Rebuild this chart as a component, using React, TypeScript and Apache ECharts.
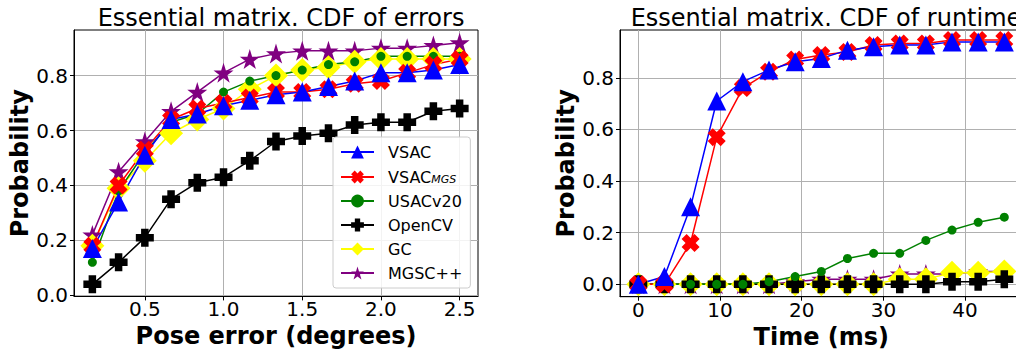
import React, { useEffect, useRef } from 'react';
import * as echarts from 'echarts';

// ---- Left chart: CDF of pose errors ----
const poseErr = [0.1667, 0.3333, 0.5, 0.6667, 0.8333, 1.0, 1.1667, 1.3333, 1.5, 1.6667, 1.8333, 2.0, 2.1667, 2.3333, 2.5];
const errVSAC = [0.17, 0.34, 0.51, 0.64, 0.66, 0.69, 0.71, 0.73, 0.74, 0.76, 0.78, 0.81, 0.81, 0.82, 0.84];
const errVSACMGS = [0.18, 0.40, 0.53, 0.64, 0.68, 0.70, 0.72, 0.74, 0.74, 0.75, 0.77, 0.78, 0.81, 0.84, 0.86];
const errUSAC = [0.12, 0.38, 0.52, 0.63, 0.66, 0.74, 0.78, 0.80, 0.82, 0.84, 0.85, 0.87, 0.87, 0.87, 0.87];
const errOpenCV = [0.04, 0.12, 0.21, 0.35, 0.41, 0.43, 0.49, 0.56, 0.58, 0.59, 0.62, 0.63, 0.63, 0.67, 0.68];
const errGC = [0.18, 0.39, 0.49, 0.59, 0.64, 0.68, 0.75, 0.80, 0.82, 0.83, 0.85, 0.86, 0.86, 0.86, 0.86];
const errMGSC = [0.22, 0.45, 0.56, 0.67, 0.74, 0.81, 0.86, 0.88, 0.89, 0.89, 0.89, 0.90, 0.90, 0.91, 0.92];

// ---- Right chart: CDF of runtime ----
const timeMs = [0, 3.2, 6.4, 9.6, 12.8, 16, 19.2, 22.4, 25.6, 28.8, 32, 35.2, 38.4, 41.6, 44.8];
const rtVSAC = [0, 0.03, 0.30, 0.71, 0.785, 0.83, 0.862, 0.875, 0.907, 0.92, 0.927, 0.927, 0.939, 0.939, 0.939];
const rtVSACMGS = [0, 0, 0.16, 0.57, 0.76, 0.823, 0.871, 0.888, 0.90, 0.927, 0.933, 0.933, 0.946, 0.946, 0.946];
const rtUSAC = [0, 0, 0, 0, 0, 0.01, 0.03, 0.05, 0.10, 0.12, 0.12, 0.17, 0.21, 0.24, 0.26];
const rtOpenCV = [0, 0, 0, 0, 0, 0, 0, 0, 0, 0, 0, 0, 0.01, 0.01, 0.02];
const rtGC = [0, 0, 0, 0, 0, 0, 0, 0, 0, 0, 0.02, 0.02, 0.045, 0.045, 0.05];
const rtMGSC = [0, 0, 0, 0, 0, 0, 0.01, 0.02, 0.02, 0.02, 0.04, 0.04, 0.04, 0.05, 0.05];

const legendNames = ['VSAC', 'VSAC_MGS', 'USACv20', 'OpenCV', 'GC', 'MGSC++'];
const errTicks = [0.5, 1.0, 1.5, 2.0, 2.5];
const timeTicks = [0, 10, 20, 30, 40];
const probTicks = [0, 0.2, 0.4, 0.6, 0.8];

const X_PATH = 'path://M2.8 0L5 2.2L7.2 0L10 2.8L7.8 5L10 7.2L7.2 10L5 7.8L2.8 10L0 7.2L2.2 5L0 2.8Z';
const P_PATH = 'path://M3.5 0H8.5V3.5H12V8.5H8.5V12H3.5V8.5H0V3.5H3.5Z';
const STAR_PATH =
  'path://M100 0L122.45 69.1L195.1 69.1L136.33 111.8L158.78 180.9L100 138.2L41.22 180.9L63.67 111.8L4.9 69.1L77.55 69.1Z';

const FONT = 'DejaVu Sans';

const styles: Record<string, { color: string; symbol: string; size: number }> = {
  VSAC: { color: '#0000ff', symbol: 'triangle', size: 19 },
  VSAC_MGS: { color: '#ff0000', symbol: X_PATH, size: 18 },
  USACv20: { color: '#008000', symbol: 'circle', size: 9 },
  OpenCV: { color: '#000000', symbol: P_PATH, size: 18 },
  GC: { color: '#ffff00', symbol: 'diamond', size: 24 },
  'MGSC++': { color: '#800080', symbol: STAR_PATH, size: 20 },
};

function mkSeries(name: string, xs: number[], ys: number[], gi: number) {
  const s = styles[name];
  return {
    type: 'line',
    name,
    xAxisIndex: gi,
    yAxisIndex: gi,
    data: xs.map((x, i) => [x, ys[i]]),
    symbol: s.symbol,
    symbolSize: s.size,
    showSymbol: true,
    lineStyle: { color: s.color, width: 1.5 },
    itemStyle: { color: s.color, opacity: 1 },
    emphasis: { disabled: true },
  };
}

function valueAxis(min: number, max: number, ticks: number[], fmt: (v: number) => string, name: string, gi: number, isY: boolean) {
  return {
    type: 'value',
    gridIndex: gi,
    min,
    max,
    name,
    nameLocation: 'middle',
    nameGap: isY ? 42 : 22,
    nameTextStyle: { fontSize: 24, fontWeight: 'bold', fontFamily: FONT, color: '#000' },
    axisLine: { show: true, onZero: false, lineStyle: { color: '#000', width: 1 } },
    axisTick: { show: true, inside: false, length: 4, customValues: ticks, lineStyle: { color: '#000', width: 1 } },
    axisLabel: {
      show: true,
      customValues: ticks,
      formatter: (v: number) => fmt(v),
      fontSize: 20,
      fontFamily: FONT,
      color: '#000',
      margin: isY ? 6 : 3,
    },
    splitLine: { show: true, lineStyle: { color: '#b0b0b0', width: 1 } },
  };
}

export default function App() {
  const ref = useRef<HTMLDivElement>(null);
  useEffect(() => {
    if (!ref.current) return;
    const chart = echarts.init(ref.current, undefined, { renderer: 'svg' });
    const f1 = (v: number) => v.toFixed(1);
    const f0 = (v: number) => String(Math.round(v));
    const gridBase = {
      show: true,
      borderColor: '#000',
      borderWidth: 1,
      backgroundColor: 'transparent',
      containLabel: false,
      outerBoundsMode: 'none',
    };
    const option = {
      animation: false,
      textStyle: { fontFamily: FONT },
      title: [
        {
          text: 'Essential matrix. CDF of errors',
          left: 276,
          top: 1,
          textAlign: 'center',
          textStyle: { fontSize: 24, fontWeight: 'normal', fontFamily: FONT, color: '#000' },
        },
        {
          text: 'Essential matrix. CDF of runtime',
          left: 821,
          top: 1,
          textAlign: 'center',
          textStyle: { fontSize: 24, fontWeight: 'normal', fontFamily: FONT, color: '#000' },
        },
      ],
      grid: [
        { ...gridBase, left: 74, top: 30, width: 404, height: 266.4 },
        { ...gridBase, left: 620, top: 30, width: 402.6, height: 266.7 },
      ],
      xAxis: [
        valueAxis(0.05, 2.6167, errTicks, f1, 'Pose error (degrees)', 0, false),
        valueAxis(-2.24, 47.04, timeTicks, f0, 'Time (ms)', 1, false),
      ],
      yAxis: [
        valueAxis(-0.004, 0.966, probTicks, f1, 'Probability', 0, true),
        valueAxis(-0.048, 0.985, probTicks, f1, 'Probability', 1, true),
      ],
      legend: {
        show: true,
        orient: 'vertical',
        left: 333,
        top: 137,
        data: legendNames,
        itemWidth: 33,
        itemHeight: 16,
        itemGap: 8,
        padding: [7, 8, 7, 7],
        backgroundColor: 'rgba(255,255,255,0.85)',
        borderColor: '#cccccc',
        borderWidth: 1,
        borderRadius: 3,
        selectedMode: false,
        formatter: (n: string) => (n === 'VSAC_MGS' ? 'VSAC{sub|MGS}' : n),
        textStyle: {
          fontSize: 16,
          fontFamily: FONT,
          color: '#000',
          padding: [0, 0, 0, 9],
          lineHeight: 16,
          rich: {
            sub: { fontSize: 11, fontStyle: 'italic', fontFamily: FONT, color: '#000', verticalAlign: 'bottom', lineHeight: 16, padding: [6, 0, 0, 0] },
          },
        },
      },
      series: [
        mkSeries('MGSC++', poseErr, errMGSC, 0),
        mkSeries('GC', poseErr, errGC, 0),
        mkSeries('OpenCV', poseErr, errOpenCV, 0),
        mkSeries('USACv20', poseErr, errUSAC, 0),
        mkSeries('VSAC_MGS', poseErr, errVSACMGS, 0),
        mkSeries('VSAC', poseErr, errVSAC, 0),
        mkSeries('MGSC++', timeMs, rtMGSC, 1),
        mkSeries('GC', timeMs, rtGC, 1),
        mkSeries('OpenCV', timeMs, rtOpenCV, 1),
        mkSeries('USACv20', timeMs, rtUSAC, 1),
        mkSeries('VSAC_MGS', timeMs, rtVSACMGS, 1),
        mkSeries('VSAC', timeMs, rtVSAC, 1),
      ],
    };
    chart.setOption(option as any);
    return () => chart.dispose();
  }, []);
  return (
    <div
      ref={ref}
      style={{ position: 'fixed', left: 0, top: 0, width: 1016, height: 351, background: '#fff' }}
    />
  );
}
